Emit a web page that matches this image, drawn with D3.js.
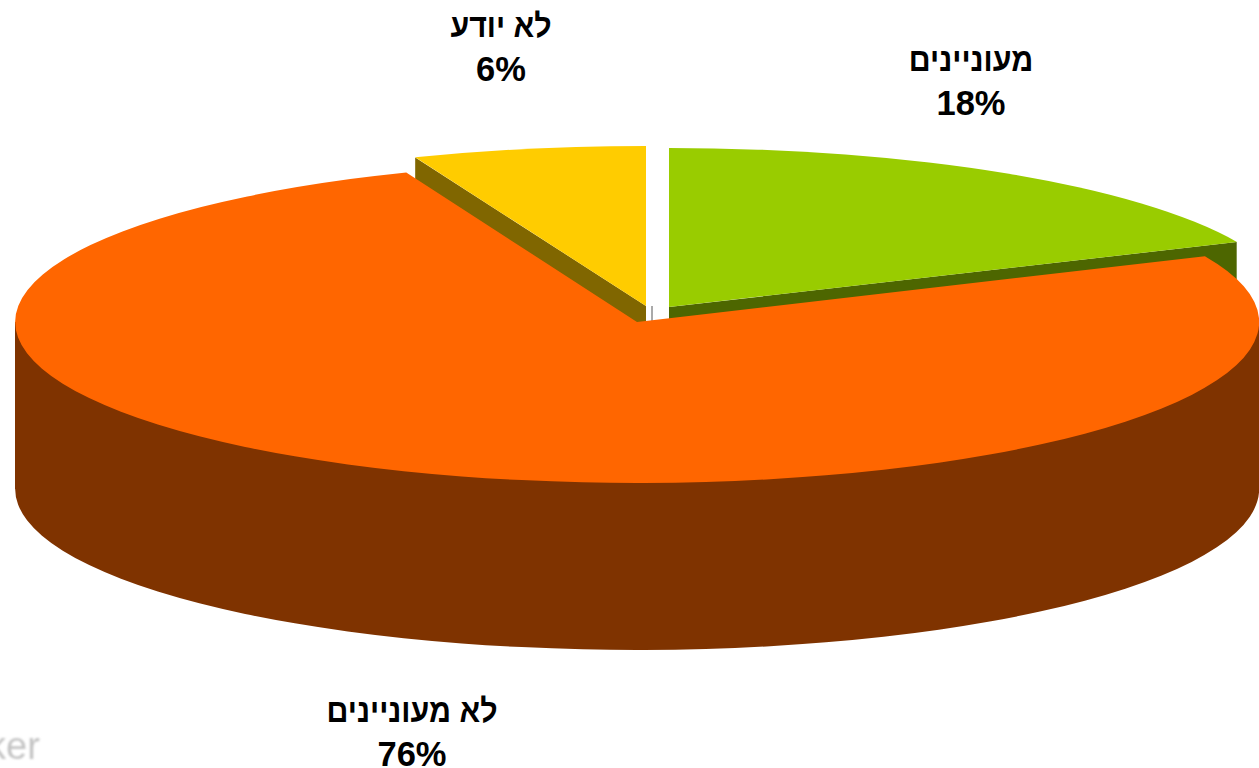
<!DOCTYPE html>
<html>
<head>
<meta charset="utf-8">
<script src="https://cdn.jsdelivr.net/npm/d3@7"></script>
<style>
  html, body { margin: 0; padding: 0; background: #fff; overflow: hidden; }
  .label { font-family: "Liberation Sans", Arial, sans-serif; font-weight: bold; font-size: 33px; fill: #000; text-anchor: middle; }
  .pct { font-size: 34.5px; }
  .mark { font-family: "Liberation Sans", Arial, sans-serif; font-size: 38px; fill: #c4c4c4; filter: blur(0.9px); }
</style>
</head>
<body>
<div id="chart"></div>
<script>
// Slice data, clockwise from twelve o'clock (labels are the rounded figures)
const categories = ["מעוניינים", "לא מעוניינים", "לא יודע"];
const values = [18.3, 75.65, 6.05];
const percentLabels = ["18%", "76%", "6%"];

const topColors = ["#99cc00", "#ff6600", "#ffcc00"];
const sideColors = ["#4d6600", "#7f3300", "#806600"];

const width = 1259;
const height = 768;

// Flattened pie: radius in x, thickness of the wall
const rx = 622;
const depth = 167;

// Each slice is pulled out by hand, so each has its own centre and y radius
const centers = [
    {x: 669, y: 307, ry: 159},
    {x: 637, y: 322, ry: 161},
    {x: 646, y: 306, ry: 160}
];
const labelPos = [
    {x: 971, y: 71},
    {x: 412, y: 722},
    {x: 501, y: 37}
];

const svg = d3.select("#chart")
    .append("svg")
    .attr("width", width)
    .attr("height", height);

const slices = d3.pie().sort(null)(values);

// Unit circle arc, squashed by the group transform
const arc = d3.arc().innerRadius(0).outerRadius(1);

function rim(i, angle) {
    return [centers[i].x + rx * Math.sin(angle), centers[i].y - centers[i].ry * Math.cos(angle)];
}

// Cut face along a slice edge, extruded down
function cutFace(i, angle) {
    const c = centers[i];
    const p = rim(i, angle);
    return d3.line()([[c.x, c.y], p, [p[0], p[1] + depth], [c.x, c.y + depth]]) + "Z";
}

function drawTop(i, dy, color) {
    svg.append("path")
        .attr("transform", `translate(${centers[i].x},${centers[i].y + dy}) scale(${rx},${centers[i].ry})`)
        .attr("d", arc(slices[i]))
        .attr("fill", color);
}

// Back slices first, the big orange slice goes over them
[0, 2].forEach(i => {
    const edge = i === 0 ? slices[i].endAngle : slices[i].startAngle;
    svg.append("path").attr("d", cutFace(i, edge)).attr("fill", sideColors[i]);
    drawTop(i, 0, topColors[i]);
});

// Small seam in the gap between the pulled out slices
svg.append("line")
    .attr("x1", 652).attr("x2", 652)
    .attr("y1", 306).attr("y2", 321)
    .attr("stroke", "#555")
    .attr("stroke-width", 1);

// Orange wall: bottom copy of the slice plus the band down to it
drawTop(1, depth, sideColors[1]);
svg.append("rect")
    .attr("x", centers[1].x - rx)
    .attr("y", centers[1].y)
    .attr("width", rx * 2)
    .attr("height", depth)
    .attr("fill", sideColors[1]);
drawTop(1, 0, topColors[1]);

// Labels, the Hebrew in the reference is set narrower than Liberation
categories.forEach((name, i) => {
    const g = svg.append("g").attr("transform", `translate(${labelPos[i].x},${labelPos[i].y})`);
    g.append("text")
        .attr("class", "label")
        .attr("direction", "rtl")
        .attr("transform", "scale(0.92,1)")
        .text(name);
    g.append("text").attr("class", "label pct").attr("y", 44).text(percentLabels[i]);
});

// Remains of a watermark, cut off by the image edge
svg.append("text")
    .attr("class", "mark")
    .attr("x", -13)
    .attr("y", 759)
    .text("ker");
</script>
</body>
</html>
